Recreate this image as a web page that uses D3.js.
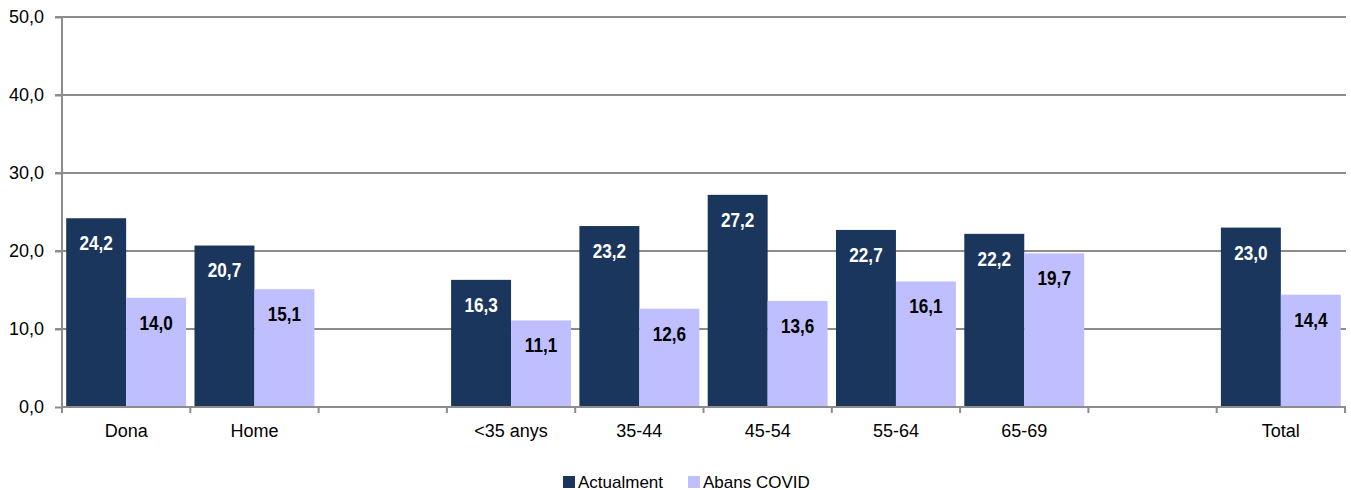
<!DOCTYPE html>
<html>
<head>
<meta charset="utf-8">
<script src="https://cdn.jsdelivr.net/npm/d3@7"></script>
<style>
  html, body { margin: 0; padding: 0; background: #fff; }
  svg { display: block; font-family: "Liberation Sans", Arial, sans-serif; }
</style>
</head>
<body>
<svg id="chart" width="1351" height="490"></svg>
<script>
const categories = ["Dona", "Home", "", "<35 anys", "35-44", "45-54", "55-64", "65-69", "", "Total"];
const actualment = [24.2, 20.7, null, 16.3, 23.2, 27.2, 22.7, 22.2, null, 23.0];
const abansCovid = [14.0, 15.1, null, 11.1, 12.6, 13.6, 16.1, 19.7, null, 14.4];
const seriesNames = ["Actualment", "Abans COVID"];
const yTicks = [0, 10, 20, 30, 40, 50];

(function () {
const colors = ["#1B365D", "#BFBFFF"];
const labelColors = ["#ffffff", "#000000"];

const svg = d3.select("#chart");
const mLeft = 62, mRight = 1345, mTop = 17, mBottom = 407;

const x = d3.scaleBand().domain(d3.range(categories.length)).range([mLeft, mRight]).paddingInner(0).paddingOuter(0);
const x1 = d3.scaleBand().domain([0, 1]).range([0, x.bandwidth()]).paddingInner(0).paddingOuter(0.07);
const y = d3.scaleLinear().domain([0, 50]).range([mBottom, mTop]);
const fmt = v => d3.format(".1f")(v).replace(".", ",");

// gridlines
svg.append("g").selectAll("line").data(yTicks.filter(t => t > 0)).join("line")
  .attr("x1", mLeft - 7).attr("x2", mRight + 1)
  .attr("y1", d => y(d)).attr("y2", d => y(d))
  .attr("stroke", "#8c8c8c").attr("stroke-width", 2);

// y axis
const yAxis = d3.axisLeft(y).tickValues(yTicks).tickFormat(fmt).tickSize(7).tickPadding(11);
const gy = svg.append("g").attr("transform", `translate(${mLeft},0)`).call(yAxis);
gy.select(".domain").attr("stroke", "#8c8c8c").attr("stroke-width", 2).attr("d", `M0,${mTop}V${mBottom}`);
gy.selectAll(".tick line").attr("stroke", "#8c8c8c").attr("stroke-width", 2);
gy.selectAll(".tick text").attr("font-size", 18).attr("fill", "#000").attr("font-family", "'Liberation Sans', Arial, sans-serif");

// bars
const series = [actualment, abansCovid];
series.forEach((vals, si) => {
  const g = svg.append("g");
  const data = vals.map((v, i) => ({ i, v })).filter(d => d.v != null);
  g.selectAll("rect").data(data).join("rect")
    .attr("x", d => x(d.i) + x1(si))
    .attr("width", x1.bandwidth())
    .attr("y", d => y(d.v))
    .attr("height", d => y(0) - y(d.v))
    .attr("fill", colors[si]);
  g.selectAll("text").data(data).join("text")
    .attr("transform", d => `translate(${x(d.i) + x1(si) + x1.bandwidth() / 2},${y(d.v) + 25}) scale(0.88,1)`)
    .attr("text-anchor", "middle")
    .attr("dominant-baseline", "central")
    .attr("font-family", "'Liberation Sans', Arial, sans-serif")
    .attr("font-weight", "bold")
    .attr("font-size", 19.5)
    .attr("fill", labelColors[si])
    .text(d => fmt(d.v));
});

// x axis
const xAxis = d3.axisBottom(x).tickFormat(i => categories[i]).tickSize(0).tickPadding(17);
const gx = svg.append("g").attr("transform", `translate(0,${mBottom})`).call(xAxis);
gx.select(".domain").attr("stroke", "#8c8c8c").attr("stroke-width", 2).attr("d", `M${mLeft},0H${mRight + 1}`);
gx.selectAll(".tick text").attr("font-size", 18).attr("fill", "#000").attr("font-family", "'Liberation Sans', Arial, sans-serif");
// boundary ticks
svg.append("g").selectAll("line").data(d3.range(categories.length + 1)).join("line")
  .attr("x1", i => mLeft + i * x.step()).attr("x2", i => mLeft + i * x.step())
  .attr("y1", mBottom).attr("y2", mBottom + 6)
  .attr("stroke", "#8c8c8c").attr("stroke-width", 2);

// legend
const legend = svg.append("g").attr("font-family", "'Liberation Sans', Arial, sans-serif").attr("font-size", 17);
const legendX = [563, 688];
seriesNames.forEach((name, si) => {
  legend.append("rect").attr("x", legendX[si]).attr("y", 476).attr("width", 12).attr("height", 12).attr("fill", colors[si]);
  legend.append("text").attr("x", legendX[si] + 15).attr("y", 482).attr("dominant-baseline", "central").attr("fill", "#000").text(name);
});
})();
</script>
</body>
</html>
